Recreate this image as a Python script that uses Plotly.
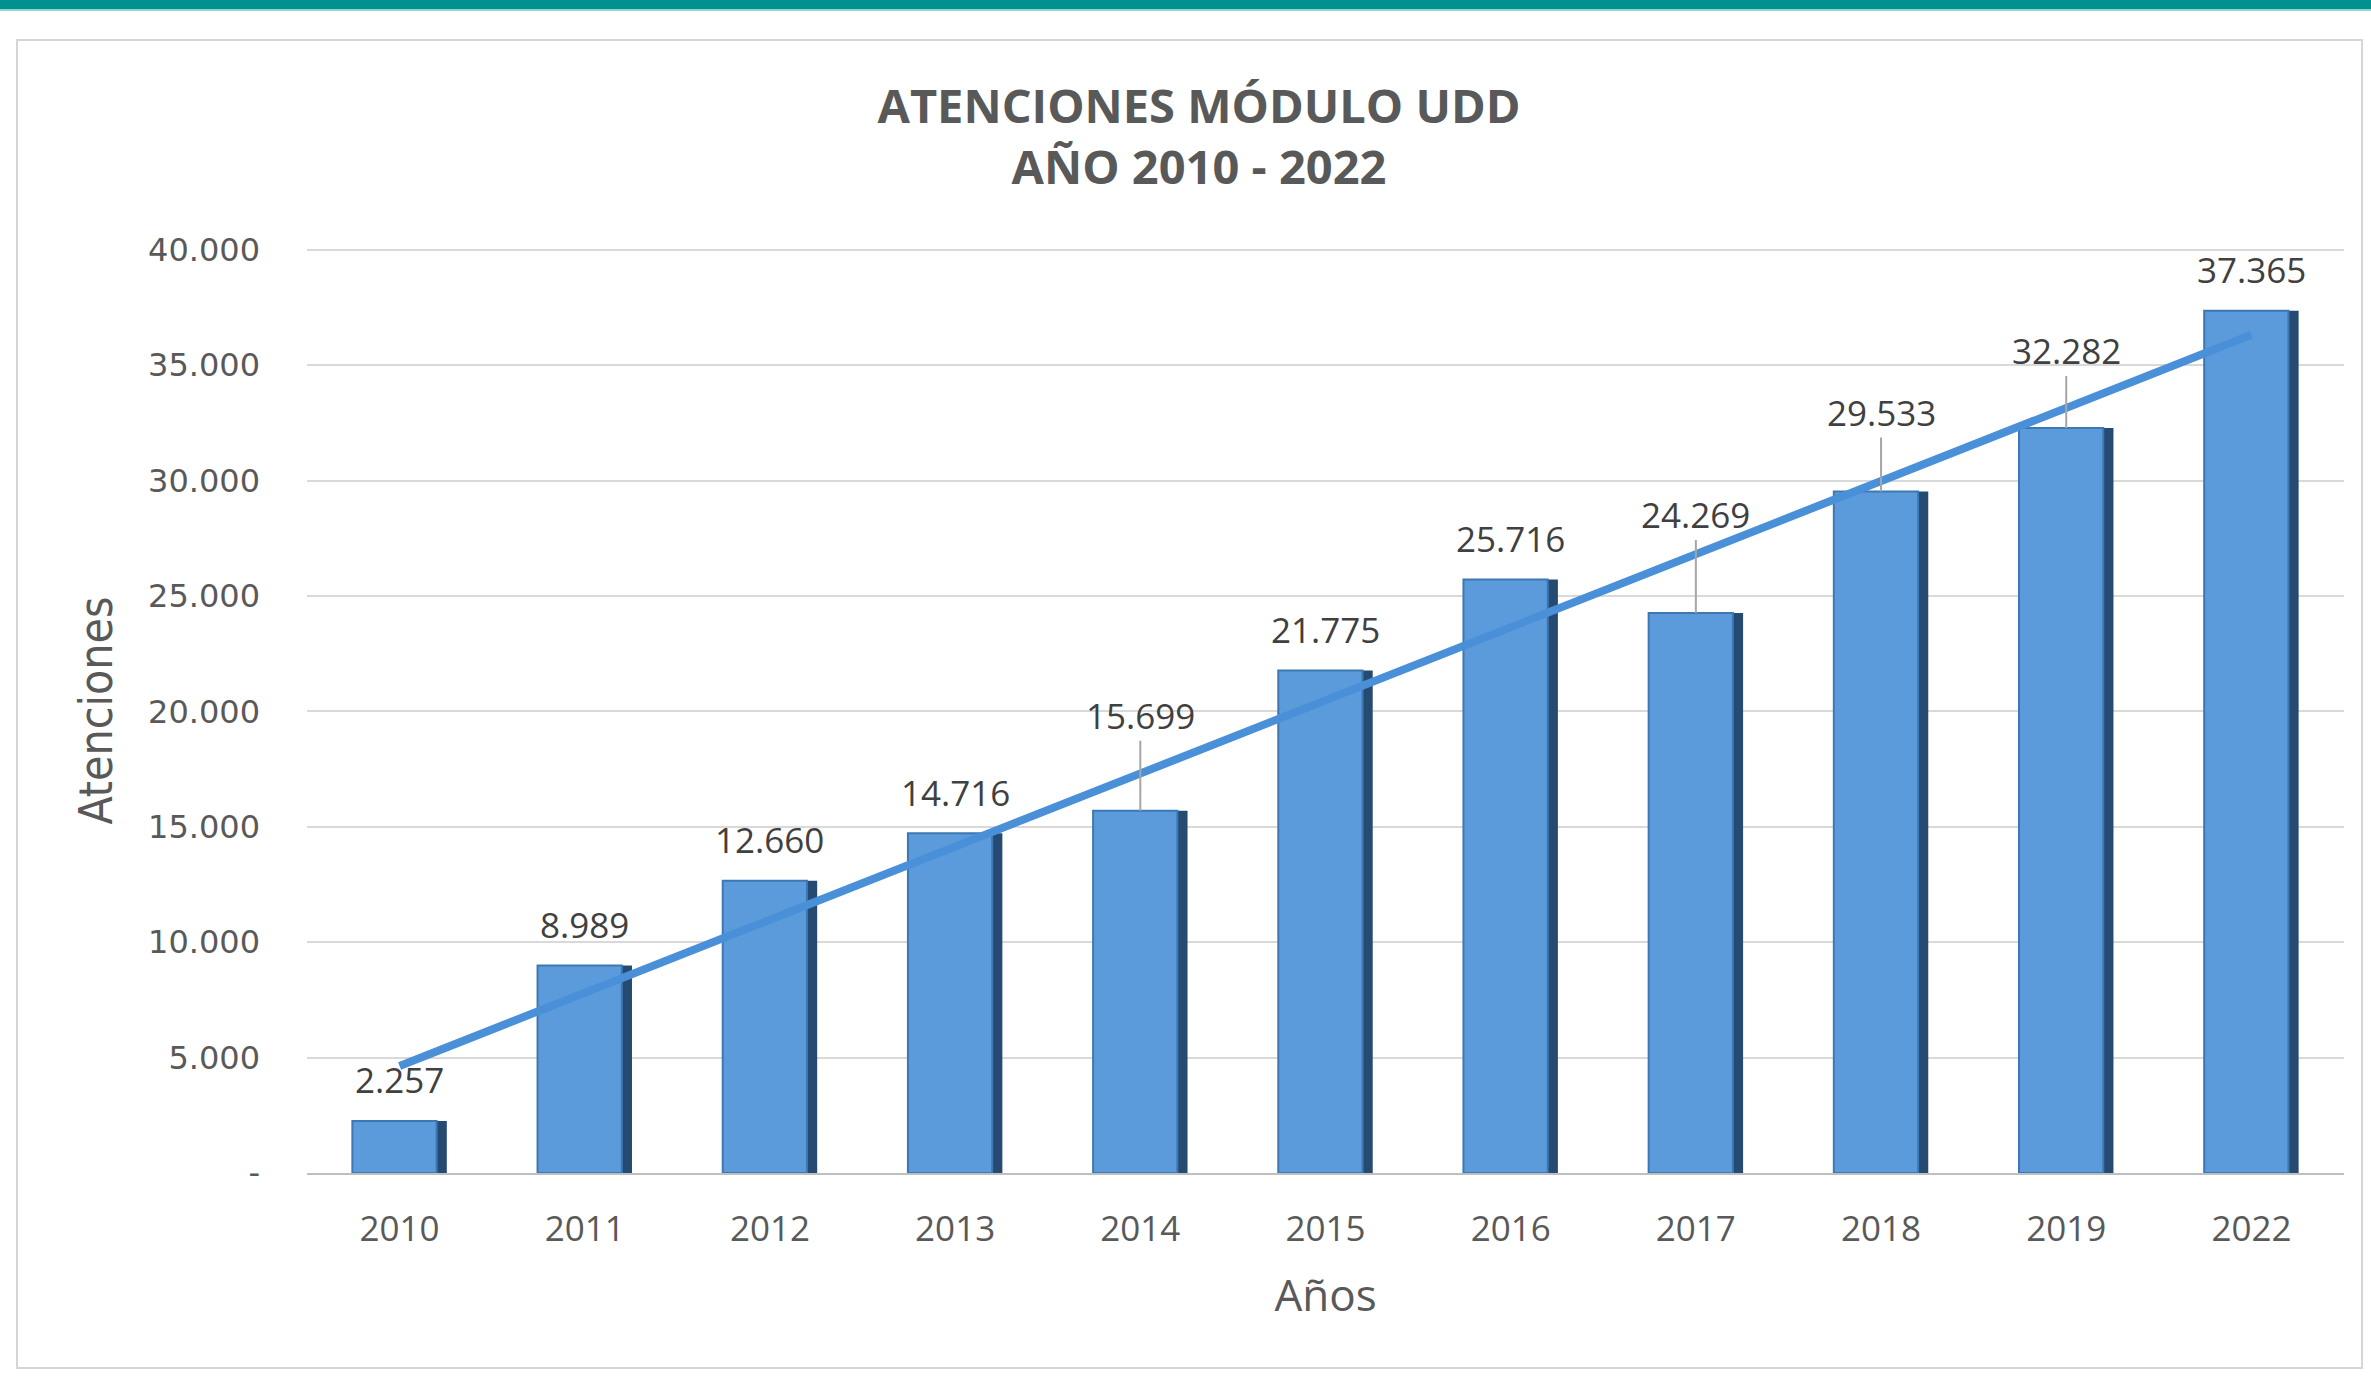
import numpy as np
import plotly.graph_objects as go

# ---------------- data ----------------
YEARS = ["2010", "2011", "2012", "2013", "2014", "2015", "2016", "2017", "2018", "2019", "2022"]
ATENCIONES = [2257, 8989, 12660, 14716, 15699, 21775, 25716, 24269, 29533, 32282, 37365]
Y_TICK_VALUES = [0, 5000, 10000, 15000, 20000, 25000, 30000, 35000, 40000]
Y_TICK_LABELS = ["-", "5.000", "10.000", "15.000", "20.000", "25.000", "30.000", "35.000", "40.000"]
TITLE = "ATENCIONES MÓDULO UDD<br>AÑO 2010 - 2022"
X_TITLE = "Años"
Y_TITLE = "Atenciones"

# ---------------- style / layout ----------------
W, H = 2371, 1381
M_L, M_R, M_T, M_B = 307, 27, 248, 208
PLOT_W = W - M_L - M_R
PLOT_H = H - M_T - M_B
Y_MAX = 40080  # a hair above 40.000 so the top gridline is drawn
GREY_TEXT = "#595959"
LABEL_TEXT = "#404040"
# label offset (px above bar top) ; leader line shown where label was moved
LABEL_OFFSET = {"2014": 95, "2017": 98, "2018": 79, "2019": 77}
DEFAULT_OFFSET = 41


def px_x(px):
    return (px - M_L) / PLOT_W


def px_y(py):
    return (H - M_B - py) / PLOT_H


def fmt(v):
    return f"{v:,}".replace(",", ".")


# linear trendline (as in the original spreadsheet chart), fitted on category index
idx = np.arange(len(YEARS))
slope, intercept = np.polyfit(idx, np.array(ATENCIONES, dtype=float), 1)
trend = slope * idx + intercept

fig = go.Figure()

# dark "shadow" part of the bars (gives the darker right edge)
fig.add_trace(go.Bar(
    x=YEARS, y=ATENCIONES, width=0.51, offset=-0.255,
    marker=dict(color="#264B73", line=dict(width=0)),
    hoverinfo="skip", showlegend=False,
))
# main bar face
fig.add_trace(go.Bar(
    x=YEARS, y=ATENCIONES, width=0.455, offset=-0.255,
    marker=dict(color="#5B9BDB", line=dict(width=2, color="#3E78B2")),
    showlegend=False, name="Atenciones",
))
# trendline
fig.add_trace(go.Scatter(
    x=YEARS, y=trend, mode="lines",
    line=dict(color="#4A90D9", width=8),
    hoverinfo="skip", showlegend=False,
))

annotations = []
for i, (yr, v) in enumerate(zip(YEARS, ATENCIONES)):
    off = LABEL_OFFSET.get(yr, DEFAULT_OFFSET)
    leader = yr in LABEL_OFFSET
    annotations.append(dict(
        x=i, y=v, xref="x", yref="y", text=fmt(v),
        showarrow=True, arrowhead=0, ax=0, ay=-off,
        arrowwidth=2 if leader else 0.1,
        arrowcolor="#A6A6A6" if leader else "rgba(0,0,0,0)",
        font=dict(family="Open Sans", size=35, color=LABEL_TEXT),
    ))

shapes = [
    # teal top band
    dict(type="rect", xref="paper", yref="paper",
         x0=px_x(0), x1=px_x(W), y0=px_y(0), y1=px_y(9),
         fillcolor="#009090", line=dict(width=0), layer="below"),
    dict(type="rect", xref="paper", yref="paper",
         x0=px_x(0), x1=px_x(W), y0=px_y(9), y1=px_y(11),
         fillcolor="#8FD6D6", line=dict(width=0), layer="below"),
    # chart panel border
    dict(type="rect", xref="paper", yref="paper",
         x0=px_x(17), x1=px_x(2362), y0=px_y(40), y1=px_y(1368),
         fillcolor="rgba(0,0,0,0)", line=dict(color="#D6D6D6", width=2), layer="below"),
]

fig.update_layout(
    width=W, height=H,
    margin=dict(l=M_L, r=M_R, t=M_T, b=M_B, autoexpand=False),
    paper_bgcolor="white", plot_bgcolor="white",
    barmode="overlay",
    title=dict(
        text=f"<b>{TITLE}</b>",
        font=dict(family="Open Sans", size=47, color=GREY_TEXT),
        x=1199 / W, xanchor="center", xref="container",
        y=1 - 123 / H, yanchor="middle", yref="container",
    ),
    xaxis=dict(
        type="category", range=[-0.5, len(YEARS) - 0.5],
        showgrid=False, showline=True, linecolor="#BFBFBF", linewidth=2,
        ticks="", ticklabelstandoff=24,
        tickfont=dict(family="Open Sans", size=35, color=GREY_TEXT),
        title=dict(text=X_TITLE, font=dict(family="Open Sans", size=44, color=GREY_TEXT), standoff=30),
    ),
    yaxis=dict(
        range=[0, Y_MAX], tickvals=Y_TICK_VALUES, ticktext=Y_TICK_LABELS,
        showgrid=True, gridcolor="#D9D9D9", gridwidth=2,
        zeroline=False, showline=False, ticks="", ticklabelstandoff=46,
        tickfont=dict(family="DejaVu Sans", size=32, color=GREY_TEXT),
        title=dict(text=Y_TITLE, font=dict(family="DejaVu Sans Condensed", size=46, color=GREY_TEXT), standoff=20),
    ),
    annotations=annotations,
    shapes=shapes,
)

fig.write_html(
    "out.html",
    config={"displayModeBar": False},
    post_script="document.body.style.margin='0';",
)
